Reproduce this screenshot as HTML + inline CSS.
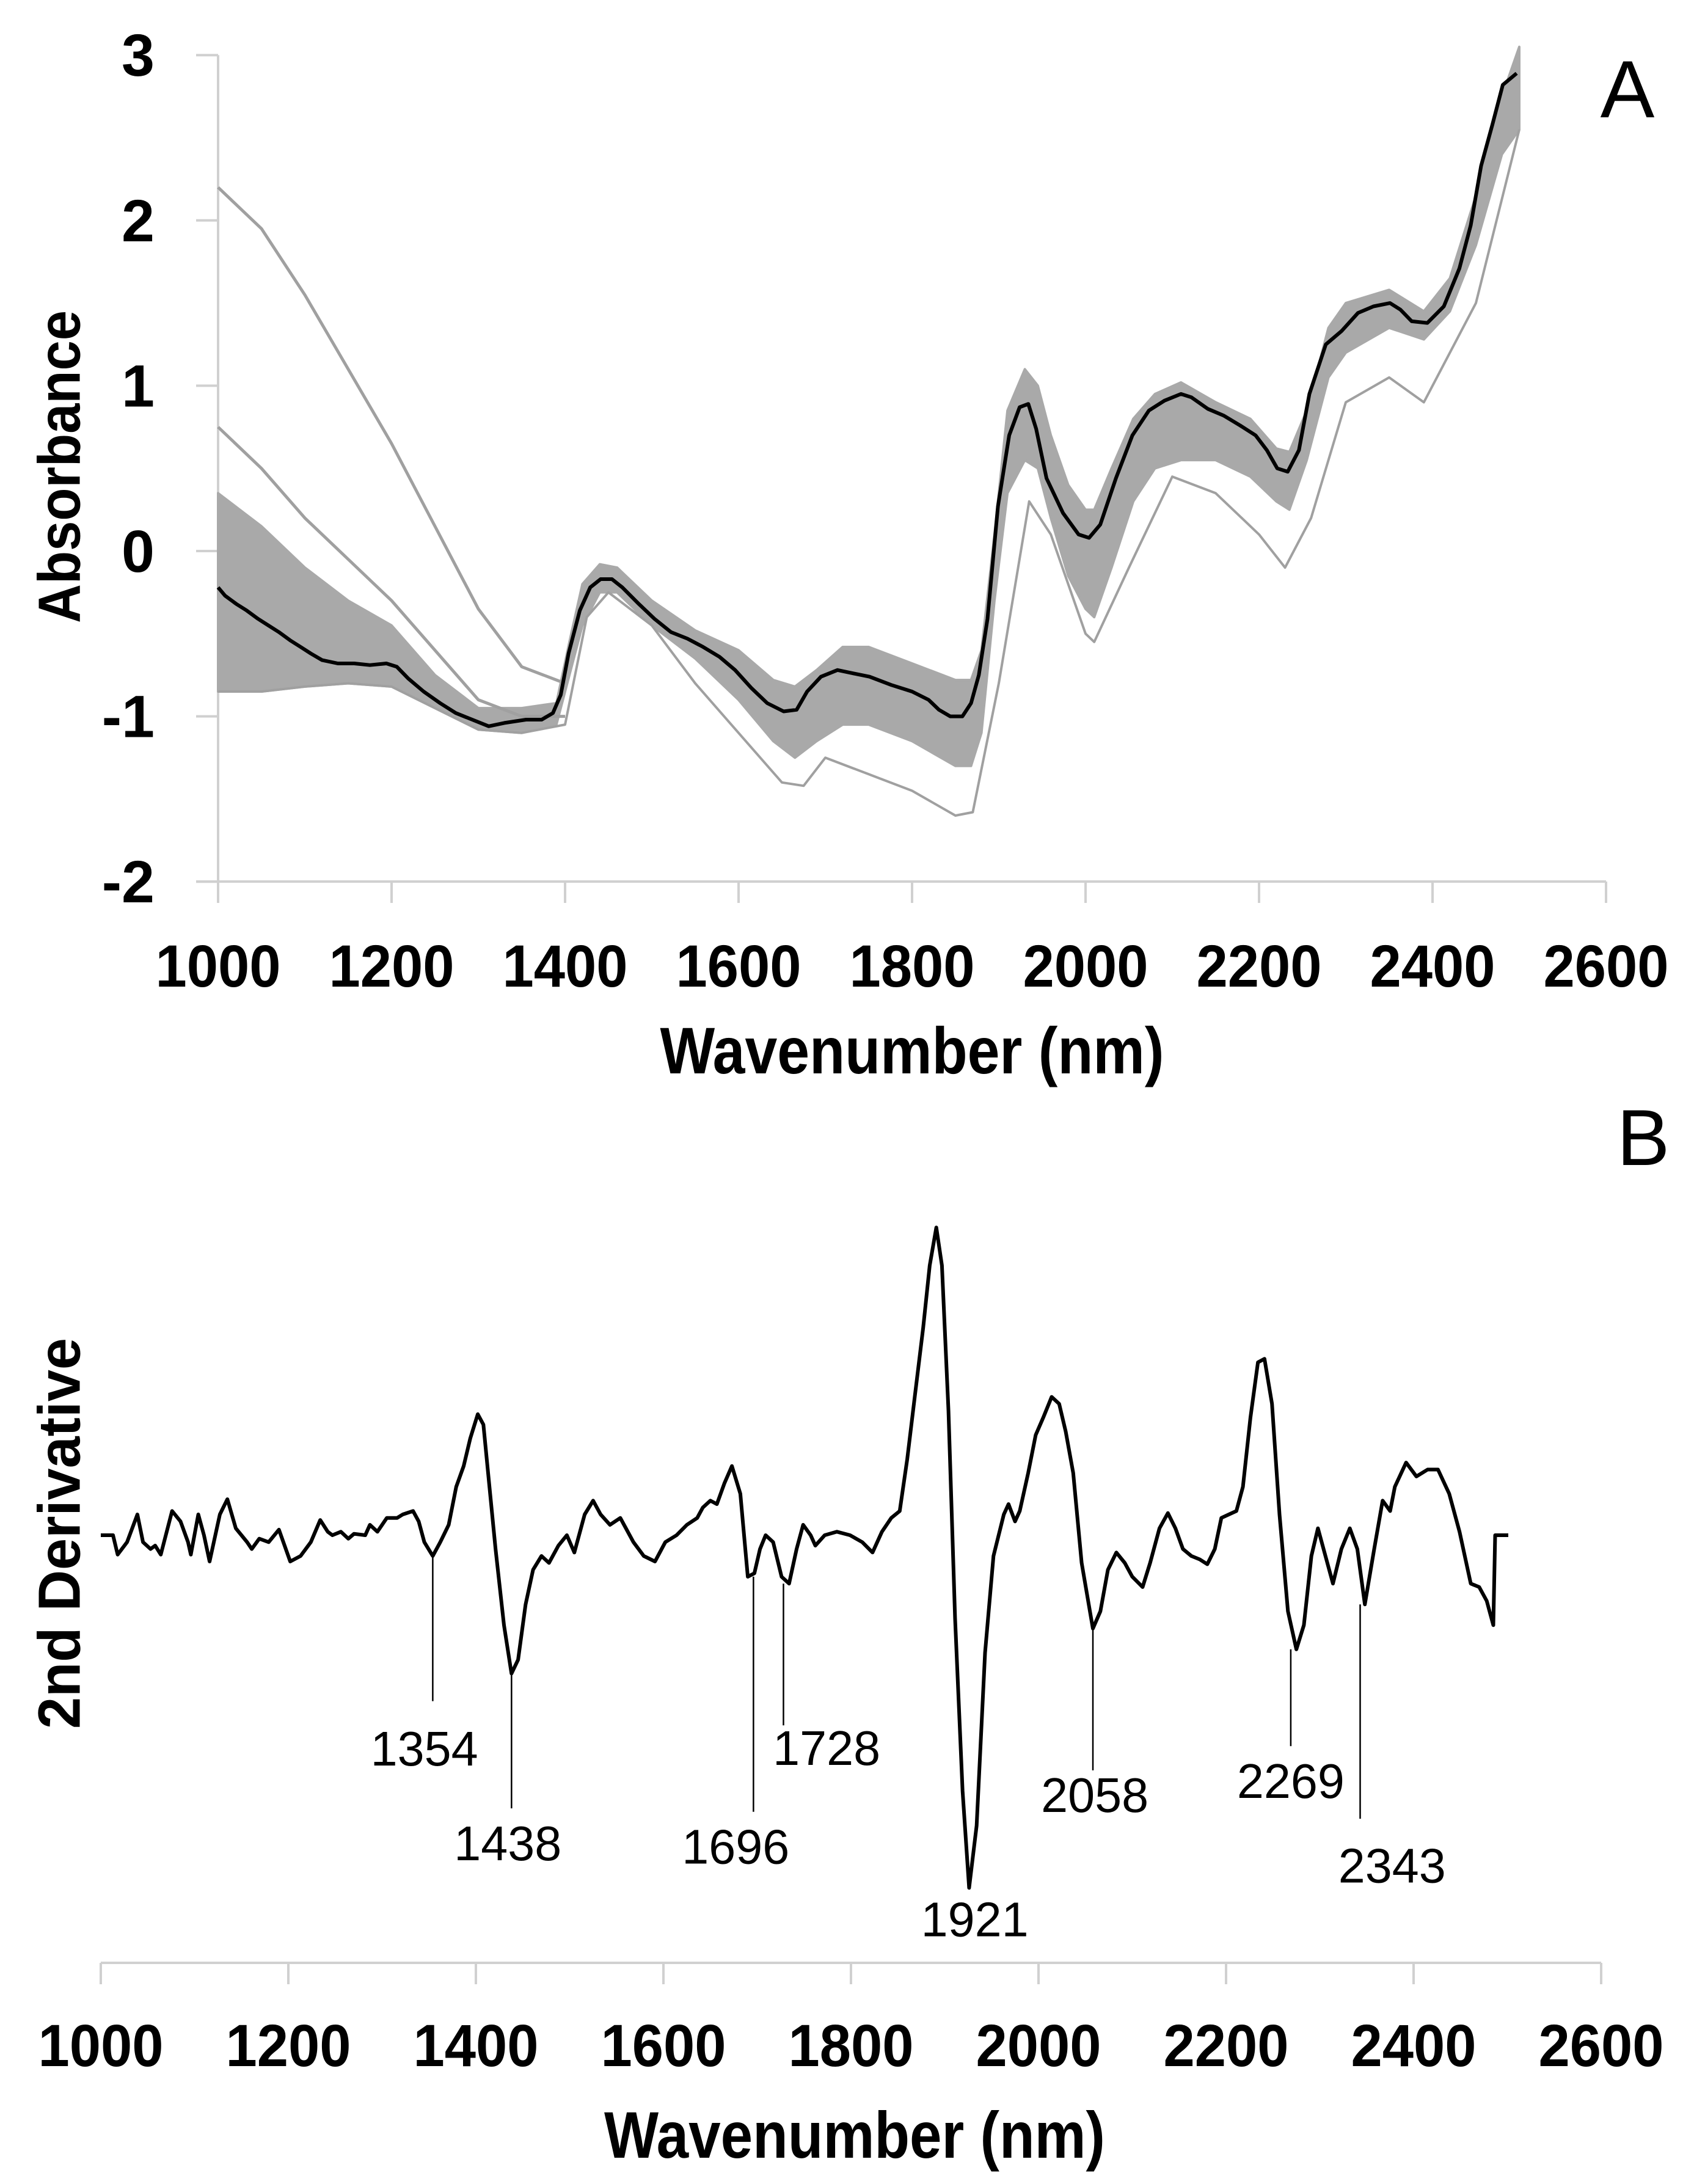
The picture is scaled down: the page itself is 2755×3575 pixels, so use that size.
<!DOCTYPE html>
<html><head><meta charset="utf-8"><style>
html,body{margin:0;padding:0;background:#fff}
svg{display:block}
text{font-family:"Liberation Sans",sans-serif}
</style></head><body>
<svg id="fig" width="2755" height="3575" viewBox="0 0 2755 3575" xmlns="http://www.w3.org/2000/svg">
<g id="chartA"></g>
<g id="chartB"></g>
</svg>
<script>
// ---------- Chart A data ----------
const xTicks = [1000,1200,1400,1600,1800,2000,2200,2400,2600];
const yTicksA = [3,2,1,0,-1,-2];
const meanWl = [1000,1008,1021,1033,1046,1058,1070,1083,1095,1107,1120,1138,1157,1175,1194,1206,1219,1237,1256,1274,1293,1312,1330,1355,1373,1386,1395,1404,1417,1429,1441,1454,1466,1485,1503,1522,1541,1559,1578,1596,1615,1633,1652,1667,1679,1695,1714,1732,1751,1776,1800,1819,1831,1844,1858,1868,1877,1887,1899,1912,1924,1934,1943,1955,1974,1992,2004,2017,2035,2054,2073,2091,2110,2122,2141,2159,2178,2196,2209,2221,2233,2246,2258,2277,2295,2314,2332,2351,2363,2376,2394,2413,2431,2444,2456,2469,2481,2497];
const meanAbs = [-0.22,-0.27,-0.32,-0.36,-0.41,-0.45,-0.49,-0.54,-0.58,-0.62,-0.66,-0.68,-0.68,-0.69,-0.68,-0.70,-0.77,-0.85,-0.92,-0.98,-1.02,-1.06,-1.04,-1.02,-1.02,-0.98,-0.87,-0.62,-0.36,-0.22,-0.17,-0.17,-0.22,-0.32,-0.41,-0.49,-0.53,-0.58,-0.64,-0.72,-0.83,-0.92,-0.97,-0.96,-0.85,-0.76,-0.72,-0.74,-0.76,-0.81,-0.85,-0.90,-0.96,-1.00,-1.00,-0.92,-0.75,-0.41,0.27,0.70,0.87,0.89,0.74,0.44,0.23,0.10,0.08,0.16,0.44,0.70,0.85,0.91,0.95,0.93,0.86,0.82,0.76,0.70,0.61,0.50,0.48,0.61,0.95,1.25,1.33,1.44,1.48,1.50,1.46,1.39,1.38,1.48,1.71,1.97,2.33,2.58,2.82,2.89];
const bandWl = [1000,1050,1100,1150,1200,1250,1300,1350,1390,1405,1420,1440,1460,1500,1550,1600,1640,1665,1690,1720,1750,1800,1850,1868,1880,1895,1910,1930,1945,1960,1980,2000,2010,2030,2055,2080,2110,2150,2190,2220,2235,2255,2280,2300,2350,2390,2420,2450,2480,2500];
const bandUpper = [0.35,0.15,-0.1,-0.3,-0.45,-0.75,-0.95,-0.95,-0.92,-0.55,-0.2,-0.08,-0.1,-0.3,-0.48,-0.6,-0.78,-0.82,-0.72,-0.58,-0.58,-0.68,-0.78,-0.78,-0.6,0.1,0.85,1.1,1.0,0.7,0.4,0.25,0.25,0.5,0.8,0.95,1.02,0.9,0.8,0.62,0.6,0.85,1.35,1.5,1.58,1.45,1.65,2.15,2.75,3.05];
const bandLower = [-0.85,-0.85,-0.82,-0.8,-0.82,-0.95,-1.08,-1.1,-1.05,-0.75,-0.45,-0.25,-0.25,-0.45,-0.65,-0.9,-1.15,-1.25,-1.15,-1.05,-1.05,-1.15,-1.3,-1.3,-1.1,-0.3,0.35,0.55,0.5,0.2,-0.15,-0.35,-0.4,-0.1,0.3,0.5,0.55,0.55,0.45,0.3,0.25,0.55,1.05,1.2,1.35,1.28,1.45,1.85,2.4,2.55];
const lowWl = [1000,1050,1100,1150,1200,1250,1300,1350,1400,1425,1450,1500,1550,1600,1650,1675,1700,1750,1800,1850,1870,1900,1935,1960,2000,2010,2050,2100,2150,2200,2230,2260,2300,2350,2390,2450,2500];
const lowCurve = [-0.85,-0.85,-0.82,-0.8,-0.82,-0.95,-1.08,-1.1,-1.05,-0.4,-0.25,-0.45,-0.8,-1.1,-1.4,-1.42,-1.25,-1.35,-1.45,-1.6,-1.58,-0.8,0.3,0.1,-0.5,-0.55,-0.1,0.45,0.35,0.1,-0.1,0.2,0.9,1.05,0.9,1.5,2.55];
const outWl = [1000,1050,1100,1150,1200,1250,1300,1350,1400];
const outlier1 = [2.2,1.95,1.55,1.1,0.65,0.15,-0.35,-0.7,-0.8];
const outlier2 = [0.75,0.5,0.2,-0.05,-0.3,-0.6,-0.9,-1.0,-1.0];

// ---------- Chart B data ----------
const derivWl = [1000,1013,1018,1028,1039,1045,1053,1058,1064,1076,1085,1093,1096,1104,1110,1116,1127,1135,1144,1156,1161,1169,1179,1190,1202,1213,1224,1234,1242,1247,1256,1264,1270,1282,1287,1295,1305,1316,1322,1333,1339,1345,1354,1362,1371,1379,1387,1394,1402,1408,1413,1421,1430,1438,1445,1453,1461,1470,1478,1488,1497,1505,1516,1525,1533,1543,1554,1568,1579,1591,1602,1614,1625,1636,1642,1650,1657,1665,1673,1682,1690,1697,1703,1709,1717,1726,1734,1742,1749,1757,1762,1772,1785,1799,1812,1823,1833,1843,1852,1860,1868,1877,1884,1891,1897,1904,1911,1919,1926,1934,1943,1952,1963,1968,1975,1980,1989,1997,2005,2014,2022,2029,2037,2046,2058,2066,2074,2083,2092,2100,2111,2119,2129,2138,2146,2154,2163,2172,2180,2188,2195,2203,2211,2218,2226,2234,2241,2249,2257,2266,2275,2283,2291,2298,2306,2314,2323,2332,2340,2348,2358,2367,2375,2380,2392,2403,2415,2426,2438,2449,2461,2470,2478,2485,2487,2501];
const derivVal = [0,0,-28,-10,30,-10,-20,-15,-28,35,20,-10,-28,30,0,-38,30,52,10,-10,-20,-5,-10,8,-38,-30,-10,22,5,0,5,-5,2,0,15,5,25,25,30,35,20,-10,-30,-10,15,70,100,140,175,160,90,-20,-130,-200,-180,-100,-50,-30,-40,-15,0,-25,30,50,30,15,25,-10,-30,-38,-10,0,15,25,40,50,45,75,100,60,-60,-55,-20,0,-10,-60,-70,-20,15,0,-15,0,5,0,-10,-25,5,25,35,110,200,300,390,445,390,180,-120,-370,-510,-420,-170,-30,30,45,20,35,90,145,170,200,190,150,90,-40,-135,-110,-50,-25,-40,-60,-75,-40,10,32,10,-20,-30,-35,-42,-20,25,30,35,70,170,250,255,190,30,-110,-165,-130,-30,10,-30,-70,-20,10,-20,-100,-20,50,35,70,105,85,95,95,60,5,-70,-75,-95,-130,0,0];
const peakWl = [1354,1438,1696,1728,2058,2269,2343];
const peakLabels = ["1354","1438","1696","1728","2058","2269","2343"];
const lineTop = [-30,-200,-60,-70,-135,-165,-100];
const lineBottom = [-240,-395,-400,-275,-340,-305,-410];
const labelWl = [1345,1434,1677,1774,2060,2269,2377];
const labelBase = [-333,-470,-475,-332,-400,-380,-502];
const minLabel = "1921";
const minLabelWl = 1932;
const minLabelBase = -580;

const NS = "http://www.w3.org/2000/svg";
function mk(parent, tag, attrs, name, text){
  const el = document.createElementNS(NS, tag);
  for (const k in attrs) el.setAttribute(k, attrs[k]);
  
  
  if (text !== undefined) el.textContent = text;
  parent.appendChild(el);
  return el;
}
const xA = w => 357 + (w - 1000) * 1.42;
const yA = v => 902 - v * 270.6;
const xB = w => 165 + (w - 1000) * 1.535;
const yB = v => 2513 - v * 1.132;
const AX = "#d0d0d0";

// ---------- draw A ----------
const A = document.getElementById('chartA');
mk(A,'line',{x1:357,y1:yA(3),x2:357,y2:1443,stroke:AX,'stroke-width':4},'y-axis-line');
mk(A,'line',{x1:321,y1:1443,x2:2629,y2:1443,stroke:AX,'stroke-width':4},'x-axis-line');
yTicksA.forEach(v=>{
  mk(A,'line',{x1:321,y1:yA(v),x2:357,y2:yA(v),stroke:AX,'stroke-width':4},'y-tick');
  mk(A,'text',{x:253,y:yA(v)+34,'text-anchor':'end','font-size':97,'font-weight':'bold'},'y-tick-label',String(v));
});
xTicks.forEach(t=>{
  mk(A,'line',{x1:xA(t),y1:1443,x2:xA(t),y2:1478,stroke:AX,'stroke-width':4},'x-tick');
  mk(A,'text',{x:xA(t),y:1615,'text-anchor':'middle','font-size':97,'font-weight':'bold',textLength:205,lengthAdjust:'spacingAndGlyphs'},'x-tick-label',String(t));
});
let bp = bandWl.map((w,i)=>xA(w)+','+yA(bandUpper[i]));
bp = bp.concat(bandWl.slice().reverse().map((w,i)=>xA(w)+','+yA(bandLower[bandLower.length-1-i])));
mk(A,'polygon',{points:bp.join(' '),fill:'#a9a9a9',stroke:'#a9a9a9','stroke-width':4,'stroke-linejoin':'round'},'spectra-band');
function pl(parent, xs, ys, fx, fy, stroke, sw, name){
  const pts = xs.map((w,i)=>fx(w).toFixed(1)+','+fy(ys[i]).toFixed(1)).join(' ');
  return mk(parent,'polyline',{points:pts,fill:'none',stroke:stroke,'stroke-width':sw,'stroke-linejoin':'round'},name);
}
pl(A,lowWl,lowCurve,xA,yA,'#a0a0a0',4,'outlier-spectrum-low');
pl(A,outWl,outlier1,xA,yA,'#a0a0a0',5,'outlier-spectrum-high');
pl(A,outWl,outlier2,xA,yA,'#a0a0a0',5,'outlier-spectrum-mid');
pl(A,meanWl,meanAbs,xA,yA,'#000',6,'mean-spectrum');
mk(A,'text',{x:97,y:764,transform:'rotate(-90 97 764)','text-anchor':'middle','dominant-baseline':'central','font-size':97,'font-weight':'bold',textLength:512,lengthAdjust:'spacingAndGlyphs'},'y-axis-title','Absorbance');
mk(A,'text',{x:1493,y:1757,'text-anchor':'middle','font-size':108,'font-weight':'bold',textLength:825,lengthAdjust:'spacingAndGlyphs'},'x-axis-title','Wavenumber (nm)');
mk(A,'text',{x:2664,y:192,'text-anchor':'middle','font-size':133},'panel-label-a','A');

// ---------- draw B ----------
const B = document.getElementById('chartB');
mk(B,'line',{x1:165,y1:3213,x2:2621,y2:3213,stroke:AX,'stroke-width':4},'x-axis-line');
xTicks.forEach(t=>{
  mk(B,'line',{x1:xB(t),y1:3213,x2:xB(t),y2:3248,stroke:AX,'stroke-width':4},'x-tick');
  mk(B,'text',{x:xB(t),y:3382,'text-anchor':'middle','font-size':97,'font-weight':'bold',textLength:205,lengthAdjust:'spacingAndGlyphs'},'x-tick-label',String(t));
});
pl(B,derivWl,derivVal,xB,yB,'#000',6,'second-derivative-line');
peakWl.forEach((w,i)=>{
  mk(B,'line',{x1:xB(w),y1:yB(lineTop[i]),x2:xB(w),y2:yB(lineBottom[i]),stroke:'#000','stroke-width':2.5},'peak-marker-line');
  mk(B,'text',{x:xB(labelWl[i]),y:yB(labelBase[i]),'text-anchor':'middle','font-size':80,textLength:176,lengthAdjust:'spacingAndGlyphs'},'peak-label',peakLabels[i]);
});
mk(B,'text',{x:xB(minLabelWl),y:yB(minLabelBase),'text-anchor':'middle','font-size':80,textLength:176,lengthAdjust:'spacingAndGlyphs'},'peak-label',minLabel);
mk(B,'text',{x:97,y:2510,transform:'rotate(-90 97 2510)','text-anchor':'middle','dominant-baseline':'central','font-size':97,'font-weight':'bold',textLength:640,lengthAdjust:'spacingAndGlyphs'},'y-axis-title','2nd Derivative');
mk(B,'text',{x:1399,y:3532,'text-anchor':'middle','font-size':108,'font-weight':'bold',textLength:820,lengthAdjust:'spacingAndGlyphs'},'x-axis-title','Wavenumber (nm)');
mk(B,'text',{x:2690,y:1907,'text-anchor':'middle','font-size':130},'panel-label-b','B');
</script>
</body></html>
